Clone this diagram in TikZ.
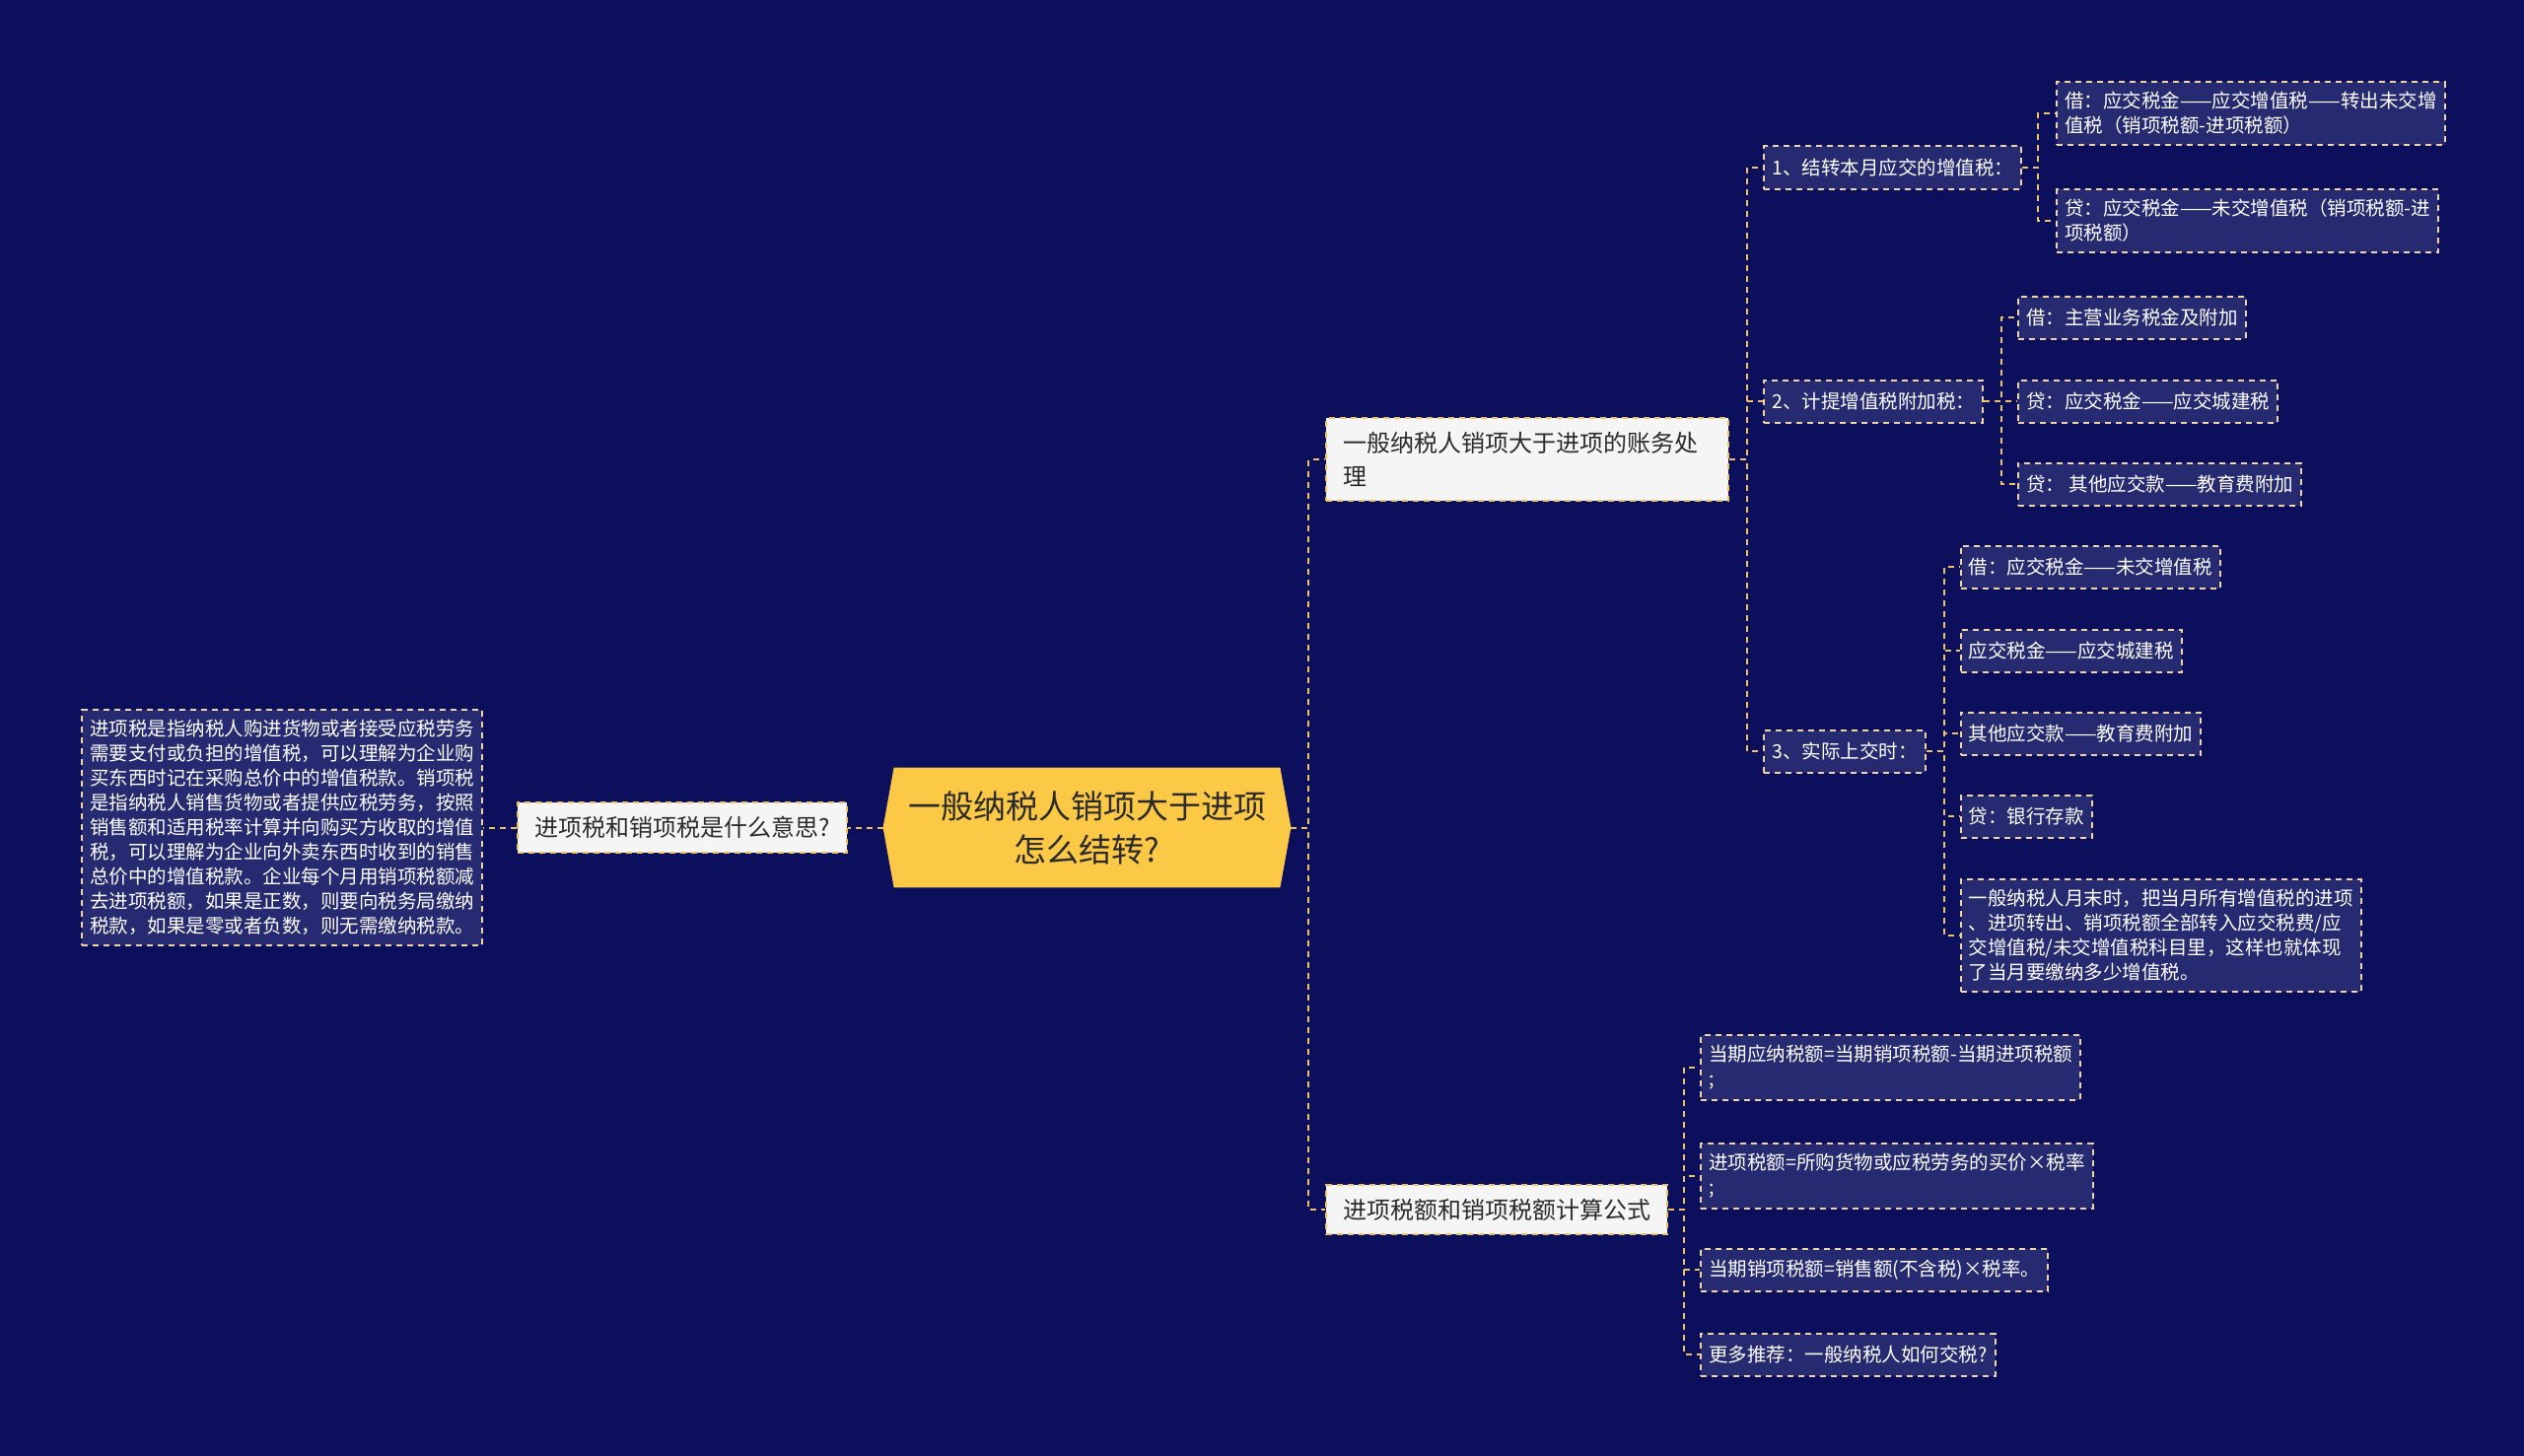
\documentclass[tikz,border=0pt]{standalone}
\usepackage{fontspec}
\setmainfont{Noto Sans CJK SC}
\usepackage{tikz}
\usetikzlibrary{positioning, backgrounds}
\definecolor{bgnavy}{HTML}{0B0F5C}
\definecolor{leaffill}{HTML}{262A70}
\definecolor{gold}{HTML}{EEC463}
\definecolor{cream}{HTML}{F2D3A4}
\definecolor{rootyellow}{HTML}{FCC947}
\definecolor{ink}{HTML}{2B2B2B}
\tikzset{
  rootbox/.style={rectangle, minimum width=206.5pt, minimum height=60.5pt, inner sep=0pt,
                  align=center, text=ink, font=\fontsize{16.5}{22}\selectfont},
  topicbox/.style={rectangle, draw=gold, fill=white!96!black, line width=1pt,
                   dash pattern=on 3pt off 2.5pt, inner xsep=8.5pt, inner ysep=7pt,
                   align=left, text=ink, font=\fontsize{12}{17}\selectfont},
  leafbox/.style={rectangle, draw=cream, fill=leaffill, line width=1pt,
                  dash pattern=on 3pt off 2.5pt, inner xsep=4pt, inner ysep=5pt,
                  minimum height=21.5pt, align=left, text=white,
                  font=\fontsize{9.75}{12.5}\selectfont},
  link/.style={draw=gold, line width=1pt, dash pattern=on 3pt off 2.5pt}
}

\begin{document}
\begin{tikzpicture}[x=0.5pt, y=-0.5pt]
\begin{scope}[on background layer]
\fill[bgnavy] (0,0) rectangle (2560,1477);
\end{scope}
\useasboundingbox (0,0) rectangle (2560,1477);

% root
\node[rootbox] (root) at (1102.5,839.5) {一般纳税人销项大于进项\\怎么结转?};
\begin{scope}[on background layer]
\fill[rootyellow] ([xshift=5.5pt]root.north west) -- ([xshift=-5.5pt]root.north east)
  -- (root.east) -- ([xshift=-5.5pt]root.south east) -- ([xshift=5.5pt]root.south west)
  -- (root.west) -- cycle;
\end{scope}

% left branch
\node[topicbox, left=18pt of root] (q) {进项税和销项税是什么意思?};
\node[leafbox, left=17pt of q] (qt) {进项税是指纳税人购进货物或者接受应税劳务\\
需要支付或负担的增值税，可以理解为企业购\\
买东西时记在采购总价中的增值税款。销项税\\
是指纳税人销售货物或者提供应税劳务，按照\\
销售额和适用税率计算并向购买方收取的增值\\
税，可以理解为企业向外卖东西时收到的销售\\
总价中的增值税款。企业每个月用销项税额减\\
去进项税额，如果是正数，则要向税务局缴纳\\
税款，如果是零或者负数，则无需缴纳税款。};

% right branches
\node[topicbox, text width=187pt, right=17.5pt of root, yshift=186.75pt] (a) {一般纳税人销项大于进项的账务处\\理};
\node[topicbox, right=17.5pt of root, yshift=-193.75pt] (b) {进项税额和销项税额计算公式};

\node[leafbox, right=17pt of a, yshift=148pt] (a1) {1、结转本月应交的增值税：};
\node[leafbox, right=17pt of a, yshift=29.5pt] (a2) {2、计提增值税附加税：};
\node[leafbox, right=17pt of a, yshift=-148pt] (a3) {3、实际上交时：};

\node[leafbox, right=17pt of a1, yshift=27.5pt] (a11) {借：应交税金——应交增值税——转出未交增\\值税（销项税额-进项税额）};
\node[leafbox, right=17pt of a1, yshift=-27pt] (a12) {贷：应交税金——未交增值税（销项税额-进\\项税额）};

\node[leafbox, right=17pt of a2, yshift=42.5pt] (a21) {借：主营业务税金及附加};
\node[leafbox, right=17pt of a2] (a22) {贷：应交税金——应交城建税};
\node[leafbox, right=17pt of a2, yshift=-42pt] (a23) {贷： 其他应交款——教育费附加};

\node[leafbox, right=17pt of a3, yshift=93.5pt] (a31) {借：应交税金——未交增值税};
\node[leafbox, right=17pt of a3, yshift=51pt] (a32) {应交税金——应交城建税};
\node[leafbox, right=17pt of a3, yshift=9pt] (a33) {其他应交款——教育费附加};
\node[leafbox, right=17pt of a3, yshift=-33pt] (a34) {贷：银行存款};
\node[leafbox, right=17pt of a3, yshift=-93.5pt] (a35) {一般纳税人月末时，把当月所有增值税的进项\\、进项转出、销项税额全部转入应交税费/应\\交增值税/未交增值税科目里，这样也就体现\\了当月要缴纳多少增值税。};

\node[leafbox, right=16pt of b, yshift=72pt] (b1) {当期应纳税额=当期销项税额-当期进项税额\\;};
\node[leafbox, right=16pt of b, yshift=17pt] (b2) {进项税额=所购货物或应税劳务的买价×税率\\;};
\node[leafbox, right=16pt of b, yshift=-30.5pt] (b3) {当期销项税额=销售额(不含税)×税率。};
\node[leafbox, right=16pt of b, yshift=-73.5pt] (b4) {更多推荐：一般纳税人如何交税?};

% connectors
\draw[link] (root.west) -- (q.east);
\draw[link] (q.west) -- (qt.east);
\foreach \c in {a,b} \draw[link] (root.east) -- ++(9pt,0) |- (\c.west);
\foreach \c in {a1,a2,a3} \draw[link] (a.east) -- ++(9pt,0) |- (\c.west);
\foreach \c in {a11,a12} \draw[link] (a1.east) -- ++(8pt,0) |- (\c.west);
\foreach \c in {a21,a22,a23} \draw[link] (a2.east) -- ++(9pt,0) |- (\c.west);
\foreach \c in {a31,a32,a33,a34,a35} \draw[link] (a3.east) -- ++(9pt,0) |- (\c.west);
\foreach \c in {b1,b2,b3,b4} \draw[link] (b.east) -- ++(8pt,0) |- (\c.west);
\end{tikzpicture}
\end{document}
